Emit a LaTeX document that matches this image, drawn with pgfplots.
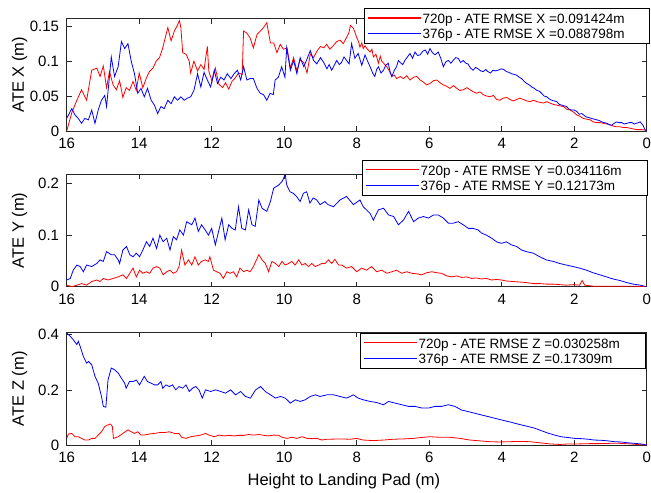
\documentclass[border=0pt]{standalone}
\usepackage{fontspec}
\setmainfont{Liberation Sans}
\usepackage{pgfplots}
\pgfplotsset{compat=1.18}
\definecolor{axgray}{rgb}{0.15,0.15,0.15}

\pgfplotsset{
  every axis legend/.append style={font=\fontsize{13.5}{16}\selectfont, draw=black, line width=0.6pt,
      inner xsep=3pt, inner ysep=2pt, nodes={inner sep=1pt}},
  atestyle/.style={
    scale only axis, width=580pt, height=112.5pt,
    xmin=0, xmax=16, x dir=reverse,
    xtick={0,2,4,6,8,10,12,14,16},
    xticklabels={0,2,4,6,8,10,12,14,16},
    tick align=inside, major tick length=5pt,
    axis line style={axgray, line width=0.6pt},
    every tick/.style={axgray, line width=0.6pt},
    ticklabel style={font=\fontsize{15}{18}\selectfont, inner sep=0pt},
    xticklabel shift=7pt, yticklabel shift=7.4pt,
    every axis y label/.style={at={(axis description cs:-0.081,0.5)}, rotate=90, anchor=center,
      font=\fontsize{16.5}{19}\selectfont},
    every axis x label/.style={at={(axis description cs:0.478,-0.32)}, anchor=center,
      font=\fontsize{16.5}{19}\selectfont},
    legend cell align=left,
    legend image code/.code={\draw[##1, line width=1.2pt] (0pt,0pt) -- (53pt,0pt);},
    every axis plot/.append style={line width=0.8pt},
  }
}
% legend text with a strut, so the rows are as tall as in the original
\newcommand{\lent}[1]{\makebox[223pt][l]{\rule[-3.3pt]{0pt}{15.3pt}#1}}

\begin{document}
\begin{tikzpicture}
\fill[white] (0,0) rectangle (651pt,487pt);

% ---- ATE X ----
\begin{axis}[atestyle, at={(66.7pt,356pt)}, anchor=south west,
  ymin=0, ymax=0.161, ytick={0,0.05,0.1,0.15}, yticklabels={0,0.05,0.1,0.15},
  ylabel={ATE X (m)},
  legend style={at={(1.0057,1.093)}, anchor=north east}]
\addplot[draw=red] coordinates {
(16,0.0)(15.86,0.026)(15.72,0.044)(15.59,0.059)(15.45,0.044)(15.31,0.087)(15.17,0.09)(15.08,0.078)(14.99,0.093)(14.9,0.062)(14.82,0.085)(14.72,0.066)(14.63,0.059)(14.54,0.072)(14.45,0.048)(14.36,0.062)(14.27,0.058)(14.17,0.071)(14.08,0.058)(14.0,0.083)(13.9,0.062)(13.8,0.076)(13.72,0.085)(13.62,0.09)(13.53,0.1)(13.44,0.105)(13.35,0.119)(13.26,0.138)(13.21,0.148)(13.12,0.129)(13.03,0.143)(12.94,0.152)(12.89,0.158)(12.85,0.148)(12.8,0.112)(12.71,0.11)(12.62,0.1)(12.58,0.083)(12.49,0.1)(12.39,0.086)(12.3,0.095)(12.21,0.088)(12.12,0.121)(12.08,0.086)(11.99,0.071)(11.9,0.09)(11.8,0.067)(11.7,0.062)(11.62,0.069)(11.53,0.06)(11.44,0.071)(11.35,0.076)(11.26,0.083)(11.16,0.081)(11.12,0.143)(11.03,0.14)(10.94,0.133)(10.85,0.119)(10.75,0.138)(10.66,0.143)(10.57,0.148)(10.48,0.155)(10.38,0.126)(10.29,0.126)(10.2,0.112)(10.11,0.124)(10.02,0.117)(9.92,0.119)(9.83,0.09)(9.74,0.105)(9.65,0.086)(9.56,0.102)(9.46,0.098)(9.37,0.083)(9.28,0.11)(9.19,0.105)(9.1,0.114)(9.0,0.121)(8.91,0.119)
(8.83,0.124)(8.74,0.117)(8.65,0.122)(8.55,0.128)(8.46,0.13)(8.37,0.125)(8.28,0.134)(8.22,0.14)(8.17,0.151)(8.09,0.147)(8.0,0.134)(7.95,0.128)(7.91,0.12)(7.86,0.126)(7.82,0.118)(7.77,0.122)(7.72,0.118)(7.63,0.113)(7.58,0.117)(7.54,0.106)(7.47,0.11)(7.4,0.097)(7.35,0.107)(7.31,0.1)(7.24,0.096)(7.17,0.092)(7.1,0.086)(7.03,0.078)(6.96,0.08)(6.9,0.075)(6.8,0.078)(6.71,0.075)(6.62,0.079)(6.53,0.073)(6.43,0.077)(6.34,0.078)(6.25,0.073)(6.16,0.07)(6.07,0.066)(5.98,0.068)(5.88,0.072)(5.79,0.073)(5.7,0.069)(5.61,0.066)(5.52,0.064)(5.43,0.061)(5.33,0.065)(5.24,0.061)(5.15,0.058)(5.06,0.059)(4.96,0.062)(4.87,0.059)(4.78,0.056)(4.69,0.054)(4.6,0.056)(4.51,0.052)(4.41,0.05)(4.32,0.049)(4.23,0.051)(4.14,0.045)(4.05,0.044)(3.96,0.047)(3.86,0.048)(3.77,0.045)(3.68,0.043)(3.59,0.045)(3.5,0.047)(3.4,0.045)(3.31,0.043)(3.22,0.042)(3.12,0.044)(3.03,0.042)(2.94,0.041)(2.85,0.04)(2.76,0.042)(2.67,0.04)(2.57,0.038)(2.48,0.037)(2.39,0.036)(2.3,0.035)(2.2,0.031)(2.11,0.03)(2.02,0.027)(1.93,0.023)(1.84,0.021)(1.75,0.018)(1.66,0.017)(1.56,0.016)(1.47,0.013)(1.38,0.012)(1.29,0.012)(1.2,0.011)(1.1,0.01)(1.01,0.009)(0.92,0.007)(0.83,0.006)(0.74,0.006)(0.64,0.005)(0.55,0.005)(0.46,0.004)(0.37,0.003)(0.28,0.002)(0.14,0.002)(0,0.001)
};
\addlegendentry{\lent{720p - ATE RMSE X =0.091424m}}
\addplot[draw=blue] coordinates {
(16,0.018)(15.86,0.032)(15.77,0.023)(15.68,0.018)(15.59,0.011)(15.5,0.018)(15.4,0.016)(15.31,0.03)(15.22,0.011)(15.13,0.03)(15.04,0.044)(14.95,0.051)(14.9,0.035)(14.82,0.078)(14.77,0.106)(14.68,0.078)(14.58,0.092)(14.49,0.128)(14.4,0.118)(14.31,0.125)(14.22,0.1)(14.13,0.082)(14.04,0.054)(13.95,0.061)(13.86,0.049)(13.77,0.061)(13.67,0.044)(13.58,0.037)(13.49,0.025)(13.4,0.035)(13.31,0.032)(13.21,0.044)(13.12,0.039)(13.03,0.049)(12.94,0.044)(12.85,0.049)(12.76,0.044)(12.67,0.047)(12.58,0.049)(12.49,0.058)(12.39,0.082)(12.3,0.063)(12.21,0.084)(12.12,0.073)(12.03,0.063)(11.93,0.087)(11.84,0.068)(11.75,0.077)(11.66,0.073)(11.57,0.082)(11.47,0.075)(11.38,0.082)(11.29,0.087)(11.2,0.073)(11.12,0.092)(11.03,0.073)(10.94,0.075)(10.85,0.075)(10.75,0.061)(10.66,0.054)(10.57,0.052)(10.48,0.044)(10.39,0.054)(10.3,0.052)(10.25,0.073)(10.16,0.077)(10.07,0.092)(9.98,0.077)(9.93,0.119)(9.83,0.087)(9.74,0.101)(9.65,0.082)(9.56,0.105)(9.46,0.092)(9.37,0.103)(9.28,0.115)(9.19,0.101)(9.1,0.096)(9.0,0.105)(8.91,0.098)(8.82,0.089)
(8.76,0.095)(8.69,0.087)(8.62,0.094)(8.55,0.101)(8.48,0.095)(8.42,0.098)(8.35,0.106)(8.28,0.101)(8.21,0.096)(8.14,0.125)(8.05,0.104)(7.96,0.111)(7.86,0.094)(7.77,0.109)(7.7,0.1)(7.63,0.092)(7.56,0.083)(7.5,0.078)(7.45,0.088)(7.4,0.092)(7.33,0.083)(7.26,0.087)(7.2,0.094)(7.13,0.097)(7.08,0.085)(7.03,0.078)(6.96,0.087)(6.9,0.092)(6.85,0.101)(6.8,0.098)(6.73,0.095)(6.67,0.101)(6.6,0.106)(6.53,0.111)(6.46,0.104)(6.39,0.113)(6.32,0.108)(6.25,0.109)(6.18,0.114)(6.11,0.116)(6.04,0.11)(5.98,0.118)(5.91,0.112)(5.84,0.109)(5.75,0.113)(5.68,0.104)(5.61,0.092)(5.54,0.099)(5.47,0.101)(5.4,0.097)(5.34,0.101)(5.27,0.105)(5.2,0.104)(5.13,0.098)(5.06,0.101)(4.99,0.097)(4.93,0.096)(4.86,0.09)(4.79,0.087)(4.72,0.091)(4.65,0.089)(4.58,0.086)(4.51,0.085)(4.44,0.088)(4.38,0.085)(4.31,0.083)(4.24,0.087)(4.17,0.086)(4.1,0.087)(4.01,0.089)(3.94,0.088)(3.87,0.085)(3.8,0.084)(3.73,0.082)(3.66,0.081)(3.59,0.08)(3.52,0.077)(3.45,0.075)(3.38,0.071)(3.31,0.068)(3.24,0.066)(3.17,0.063)(3.1,0.061)(3.03,0.058)(2.96,0.057)(2.9,0.054)(2.83,0.05)(2.76,0.049)(2.69,0.046)(2.62,0.044)(2.55,0.043)(2.48,0.042)(2.41,0.038)(2.34,0.037)(2.28,0.036)(2.21,0.035)(2.14,0.031)(2.07,0.03)(2.0,0.03)(1.93,0.028)(1.86,0.024)(1.79,0.025)(1.72,0.022)(1.66,0.02)(1.59,0.019)(1.52,0.018)(1.45,0.017)(1.38,0.016)(1.31,0.015)(1.24,0.013)(1.17,0.012)(1.1,0.011)(1.03,0.009)(0.97,0.008)(0.9,0.011)(0.83,0.013)(0.76,0.012)(0.69,0.012)(0.62,0.01)(0.55,0.011)(0.48,0.012)(0.41,0.012)(0.34,0.01)(0.28,0.011)(0.18,0.013)(0.1,0.008)(0.05,0.002)(0,0.0)
};
\addlegendentry{\lent{376p - ATE RMSE X =0.088798m}}
\end{axis}

% ---- ATE Y ----
\begin{axis}[atestyle, at={(66.7pt,200.3pt)}, anchor=south west,
  ymin=0, ymax=0.218, ytick={0,0.1,0.2}, yticklabels={0,0.1,0.2},
  ylabel={ATE Y (m)},
  legend style={at={(1.0022,1.128)}, anchor=north east}]
\addplot[draw=red] coordinates {
(16,0.003)(15.86,0.0)(15.72,0.003)(15.59,0.006)(15.45,0.003)(15.31,0.01)(15.17,0.013)(15.08,0.01)(14.99,0.016)(14.86,0.013)(14.72,0.016)(14.58,0.019)(14.45,0.023)(14.35,0.016)(14.26,0.026)(14.17,0.036)(14.08,0.019)(13.99,0.032)(13.9,0.026)(13.8,0.029)(13.71,0.026)(13.62,0.036)(13.52,0.039)(13.43,0.036)(13.34,0.023)(13.24,0.029)(13.15,0.032)(13.06,0.026)(12.97,0.029)(12.9,0.039)(12.83,0.071)(12.74,0.042)(12.64,0.052)(12.55,0.042)(12.46,0.058)(12.37,0.042)(12.28,0.049)(12.18,0.052)(12.09,0.049)(12.05,0.058)(11.95,0.032)(11.86,0.029)(11.77,0.026)(11.68,0.016)(11.58,0.029)(11.49,0.026)(11.4,0.029)(11.31,0.019)(11.22,0.036)(11.12,0.029)(11.03,0.032)(10.94,0.029)(10.85,0.039)(10.7,0.062)(10.61,0.052)(10.52,0.045)(10.43,0.029)(10.34,0.049)(10.24,0.045)(10.15,0.039)(10.06,0.049)(9.97,0.042)(9.88,0.045)(9.79,0.049)(9.7,0.042)(9.6,0.052)(9.51,0.042)(9.42,0.045)(9.33,0.039)(9.24,0.045)(9.14,0.039)(9.05,0.042)(8.96,0.045)(8.87,0.045)(8.78,0.052)
(8.69,0.045)(8.6,0.053)(8.5,0.042)(8.41,0.042)(8.28,0.036)(8.14,0.039)(8.0,0.029)(7.86,0.036)(7.73,0.032)(7.59,0.039)(7.45,0.029)(7.31,0.032)(7.17,0.026)(7.03,0.029)(6.9,0.032)(6.76,0.026)(6.62,0.029)(6.48,0.026)(6.34,0.025)(6.21,0.023)(6.07,0.027)(5.93,0.029)(5.79,0.027)(5.66,0.026)(5.52,0.021)(5.38,0.019)(5.24,0.021)(5.11,0.018)(4.97,0.019)(4.83,0.016)(4.7,0.017)(4.56,0.015)(4.42,0.016)(4.28,0.013)(4.14,0.014)(4.01,0.013)(3.87,0.011)(3.68,0.01)(3.5,0.009)(3.32,0.008)(3.13,0.006)(2.95,0.006)(2.77,0.005)(2.58,0.005)(2.4,0.004)(2.22,0.003)(2.03,0.004)(1.85,0.003)(1.78,0.012)(1.71,0.003)(1.48,0.001)(1.11,0.001)(0.74,0.001)(0.37,0.001)(0,0.0)
};
\addlegendentry{\lent{720p - ATE RMSE Y =0.034116m}}
\addplot[draw=blue] coordinates {
(16,0.013)(15.9,0.016)(15.82,0.032)(15.72,0.042)(15.63,0.039)(15.54,0.029)(15.45,0.042)(15.31,0.039)(15.17,0.045)(15.08,0.052)(14.99,0.049)(14.9,0.068)(14.77,0.062)(14.68,0.062)(14.58,0.052)(14.54,0.045)(14.45,0.071)(14.35,0.078)(14.26,0.062)(14.17,0.058)(14.08,0.065)(13.99,0.058)(13.9,0.071)(13.8,0.087)(13.71,0.078)(13.62,0.094)(13.52,0.074)(13.43,0.1)(13.34,0.087)(13.24,0.094)(13.15,0.071)(13.06,0.097)(12.97,0.091)(12.88,0.11)(12.78,0.1)(12.69,0.126)(12.55,0.12)(12.46,0.133)(12.37,0.107)(12.28,0.12)(12.18,0.11)(12.09,0.1)(12.0,0.113)(11.9,0.081)(11.81,0.107)(11.72,0.133)(11.63,0.091)(11.53,0.12)(11.44,0.113)(11.35,0.11)(11.26,0.155)(11.17,0.113)(11.07,0.11)(10.98,0.149)(10.89,0.12)(10.8,0.117)(10.7,0.168)(10.61,0.152)(10.48,0.146)(10.38,0.165)(10.29,0.191)(10.15,0.197)(10.06,0.204)(9.97,0.217)(9.93,0.197)(9.84,0.184)(9.75,0.181)(9.66,0.175)(9.56,0.165)(9.47,0.181)(9.38,0.184)(9.29,0.162)(9.2,0.172)(9.1,0.168)(9.01,0.159)(8.88,0.165)(8.79,0.159)
(8.64,0.155)(8.46,0.168)(8.28,0.175)(8.09,0.159)(7.91,0.168)(7.82,0.155)(7.63,0.142)(7.54,0.129)(7.4,0.149)(7.26,0.152)(7.12,0.139)(6.98,0.136)(6.85,0.12)(6.71,0.129)(6.57,0.146)(6.43,0.126)(6.3,0.133)(6.16,0.136)(6.02,0.133)(5.88,0.139)(5.75,0.139)(5.61,0.133)(5.47,0.123)(5.34,0.123)(5.2,0.126)(5.06,0.12)(4.92,0.113)(4.79,0.113)(4.65,0.11)(4.56,0.104)(4.42,0.1)(4.28,0.094)(4.14,0.087)(4.01,0.084)(3.87,0.087)(3.73,0.081)(3.59,0.078)(3.45,0.071)(3.32,0.068)(3.13,0.065)(2.95,0.058)(2.77,0.052)(2.58,0.049)(2.4,0.045)(2.22,0.042)(2.03,0.039)(1.85,0.036)(1.66,0.032)(1.48,0.027)(1.29,0.023)(1.11,0.019)(0.93,0.015)(0.74,0.012)(0.55,0.008)(0.37,0.005)(0.18,0.003)(0,0.0)
};
\addlegendentry{\lent{376p - ATE RMSE Y =0.12173m}}
\end{axis}

% ---- ATE Z ----
\begin{axis}[atestyle, at={(66.7pt,42pt)}, anchor=south west,
  ymin=0, ymax=0.408, ytick={0,0.2,0.4}, yticklabels={0,0.2,0.4},
  ylabel={ATE Z (m)}, xlabel={Height to Landing Pad (m)},
  legend style={at={(0.9988,0.998)}, anchor=north east}]
\addplot[draw=red] coordinates {
(16,0.024)(15.95,0.04)(15.86,0.042)(15.77,0.03)(15.68,0.03)(15.59,0.024)(15.5,0.018)(15.4,0.018)(15.31,0.024)(15.22,0.024)(15.13,0.036)(15.04,0.048)(14.95,0.067)(14.86,0.073)(14.79,0.076)(14.74,0.067)(14.71,0.024)(14.58,0.03)(14.45,0.042)(14.31,0.055)(14.22,0.048)(14.13,0.042)(14.04,0.048)(13.95,0.036)(13.86,0.036)(13.72,0.04)(13.58,0.042)(13.44,0.045)(13.3,0.045)(13.17,0.048)(13.03,0.042)(12.9,0.042)(12.83,0.028)(12.71,0.024)(12.58,0.03)(12.44,0.033)(12.3,0.036)(12.17,0.042)(12.08,0.036)(11.93,0.03)(11.8,0.036)(11.66,0.033)(11.52,0.035)(11.38,0.033)(11.25,0.035)(11.11,0.035)(10.98,0.038)(10.84,0.036)(10.7,0.038)(10.56,0.035)(10.43,0.033)(10.29,0.036)(10.15,0.035)(10.06,0.028)(9.92,0.024)(9.79,0.028)(9.65,0.024)(9.51,0.03)(9.37,0.024)(9.23,0.023)(9.1,0.024)(8.96,0.018)(8.82,0.021)
(8.74,0.021)(8.46,0.022)(8.18,0.021)(8.0,0.024)(7.82,0.018)(7.54,0.016)(7.26,0.018)(6.99,0.021)(6.71,0.022)(6.43,0.024)(6.16,0.028)(5.98,0.03)(5.7,0.028)(5.43,0.028)(5.15,0.024)(4.88,0.018)(4.6,0.015)(4.33,0.012)(4.05,0.011)(3.78,0.012)(3.5,0.013)(3.23,0.012)(2.95,0.008)(2.68,0.004)(2.4,0.002)(2.13,0.004)(1.85,0.004)(1.57,0.005)(1.3,0.005)(1.02,0.006)(0.74,0.006)(0.46,0.004)(0.18,0.001)(0,0.0)
};
\addlegendentry{\lent{720p - ATE RMSE Z =0.030258m}}
\addplot[draw=blue] coordinates {
(16,0.406)(15.9,0.394)(15.82,0.382)(15.72,0.364)(15.68,0.376)(15.63,0.358)(15.54,0.321)(15.45,0.297)(15.4,0.303)(15.31,0.291)(15.22,0.249)(15.13,0.224)(15.04,0.176)(14.99,0.14)(14.92,0.137)(14.86,0.236)(14.77,0.279)(14.68,0.273)(14.58,0.261)(14.49,0.242)(14.4,0.224)(14.36,0.206)(14.27,0.23)(14.17,0.23)(14.08,0.236)(13.99,0.218)(13.86,0.249)(13.77,0.23)(13.67,0.224)(13.58,0.218)(13.49,0.218)(13.4,0.23)(13.35,0.206)(13.26,0.218)(13.17,0.212)(13.08,0.218)(12.99,0.2)(12.9,0.212)(12.8,0.206)(12.71,0.218)(12.62,0.194)(12.53,0.206)(12.44,0.212)(12.35,0.2)(12.26,0.17)(12.17,0.2)(12.03,0.194)(11.89,0.2)(11.75,0.194)(11.62,0.188)(11.48,0.2)(11.34,0.182)(11.2,0.194)(11.07,0.176)(10.93,0.17)(10.79,0.2)(10.65,0.212)(10.52,0.194)(10.38,0.182)(10.24,0.17)(10.1,0.176)(9.97,0.17)(9.83,0.152)(9.69,0.164)(9.56,0.158)(9.42,0.164)(9.28,0.176)(9.14,0.182)(9.01,0.176)(8.82,0.182)
(8.64,0.182)(8.46,0.176)(8.28,0.17)(8.09,0.182)(7.96,0.17)(7.82,0.164)(7.63,0.158)(7.45,0.154)(7.26,0.146)(7.12,0.158)(6.94,0.152)(6.76,0.146)(6.57,0.14)(6.39,0.14)(6.2,0.134)(6.02,0.134)(5.84,0.14)(5.66,0.14)(5.47,0.146)(5.29,0.14)(5.11,0.127)(4.92,0.121)(4.74,0.115)(4.56,0.109)(4.37,0.103)(4.19,0.097)(4.01,0.091)(3.82,0.085)(3.64,0.079)(3.46,0.073)(3.27,0.067)(3.09,0.061)(2.91,0.052)(2.72,0.043)(2.54,0.036)(2.36,0.03)(2.17,0.027)(1.99,0.024)(1.8,0.023)(1.62,0.021)(1.44,0.018)(1.25,0.017)(1.07,0.015)(0.89,0.012)(0.71,0.011)(0.52,0.008)(0.34,0.006)(0.16,0.004)(0,0.0)
};
\addlegendentry{\lent{376p - ATE RMSE Z =0.17309m}}
\end{axis}
\end{tikzpicture}
\end{document}
